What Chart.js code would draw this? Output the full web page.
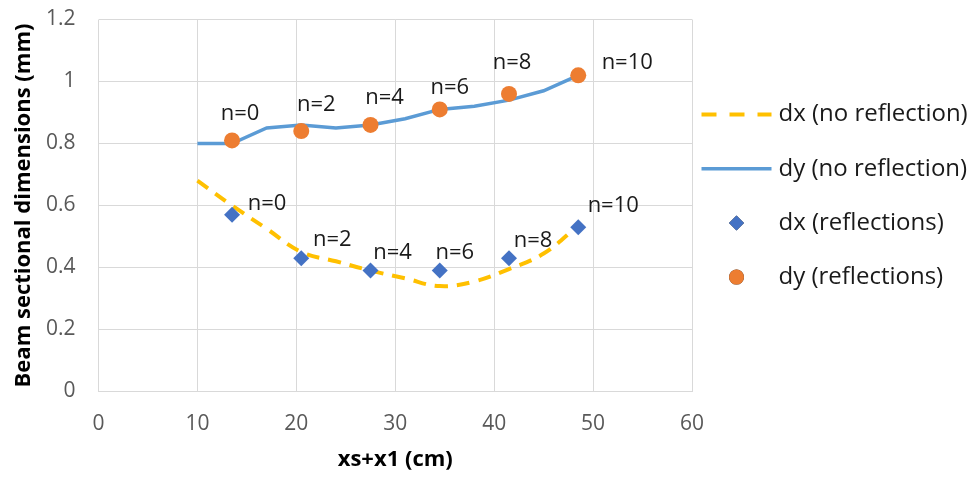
<!DOCTYPE html>
<html>
<head>
<meta charset="utf-8">
<script src="https://cdn.jsdelivr.net/npm/chart.js@4.4.1/dist/chart.umd.min.js"></script>
<style>
    html, body { margin: 0; padding: 0; background: #fff; }
    #chart { display: block; }
</style>
</head>
<body>
<canvas id="chart" width="978" height="477"></canvas>
<script>
(function (Chart) {
    "use strict";

    // beam size along the path, model without reflections
    var curveX = [10, 13.5, 17, 20.5, 24, 27.5, 31, 34.5, 38, 41.5, 45, 48.5];
    var dxNoReflection = [0.68, 0.60, 0.525, 0.45, 0.42, 0.39, 0.365, 0.34, 0.355, 0.395, 0.445, 0.535];
    var dyNoReflection = [0.80, 0.80, 0.85, 0.86, 0.85, 0.86, 0.88, 0.91, 0.92, 0.94, 0.97, 1.02];

    // measured after n reflections
    var reflX = [13.5, 20.5, 27.5, 34.5, 41.5, 48.5];
    var dxReflections = [0.57, 0.43, 0.39, 0.39, 0.43, 0.53];
    var dyReflections = [0.81, 0.84, 0.86, 0.91, 0.96, 1.02];
    var reflLabels = ['n=0', 'n=2', 'n=4', 'n=6', 'n=8', 'n=10'];

    var xTickStep = 10, xMin = 0, xMax = 60;
    var yTickStep = 0.2, yMin = 0, yMax = 1.2;

    var FONT = "'Open Sans', sans-serif";
    var W = 978, H = 477;
    var PLOT = {left: 98.5, right: 692, top: 19.5, bottom: 391.5};
    var PAD = {left: 11, right: W - PLOT.right, top: PLOT.top, bottom: 4};

    function toPoints(xs, ys) {
        return xs.map(function (x, i) { return {x: x, y: ys[i]}; });
    }

    // "n=.." tags next to the reflection markers
    var pointLabels = {
        id: 'pointLabels',
        afterDatasetsDraw: function (chart, args, opts) {
            var ctx = chart.ctx;
            ctx.save();
            ctx.font = opts.size + "px " + FONT;
            ctx.fillStyle = opts.color;
            ctx.textAlign = 'center';
            ctx.textBaseline = 'middle';
            opts.sets.forEach(function (set) {
                var meta = chart.getDatasetMeta(set.dataset);
                meta.data.forEach(function (pt, i) {
                    var off = set.offsets[i];
                    ctx.fillText(reflLabels[i], pt.x + off[0], pt.y + off[1]);
                });
            });
            ctx.restore();
        }
    };

    // legend on the right, line samples for curves and single markers for points
    var sideLegend = {
        id: 'sideLegend',
        afterDraw: function (chart, args, opts) {
            var ctx = chart.ctx;
            ctx.save();
            ctx.font = opts.size + "px " + FONT;
            ctx.textBaseline = 'middle';
            ctx.textAlign = 'left';
            chart.data.datasets.forEach(function (ds, i) {
                var y = opts.top + i * opts.step;
                if (ds.showLine) {
                    ctx.strokeStyle = ds.borderColor;
                    ctx.lineWidth = ds.borderWidth;
                    ctx.setLineDash(opts.dash[i] || []);
                    ctx.beginPath();
                    ctx.moveTo(opts.left, y);
                    ctx.lineTo(opts.left + opts.sample, y);
                    ctx.stroke();
                    ctx.setLineDash([]);
                } else {
                    Chart.helpers.drawPoint(ctx, {
                        pointStyle: ds.pointStyle,
                        radius: opts.marker,
                        borderWidth: 0,
                        rotation: 0
                    }, opts.left + opts.sample / 2, y);
                    ctx.fillStyle = ds.pointBackgroundColor;
                    ctx.fill();
                }
                ctx.fillStyle = opts.color;
                ctx.fillText(ds.label, opts.left + opts.sample + opts.gap, y);
            });
            ctx.restore();
        }
    };

    var tickFont = {family: FONT, size: 21};
    var titleFont = {family: FONT, size: 22, weight: 'bold'};

    new Chart(document.getElementById('chart'), {
        type: 'scatter',
        data: {
            datasets: [{
                label: 'dx (no reflection)',
                data: toPoints(curveX, dxNoReflection),
                showLine: true,
                borderColor: '#ffc000',
                borderWidth: 4,
                borderDash: [13, 9],
                tension: 0.4,
                pointRadius: 0,
                order: 3
            }, {
                label: 'dy (no reflection)',
                data: toPoints(curveX, dyNoReflection),
                showLine: true,
                borderColor: '#5b9bd5',
                borderWidth: 3.5,
                pointRadius: 0,
                order: 2
            }, {
                label: 'dx (reflections)',
                data: toPoints(reflX, dxReflections),
                pointStyle: 'rectRot',
                pointRadius: 8,
                pointBackgroundColor: '#4472c4',
                pointBorderWidth: 0,
                order: 1
            }, {
                label: 'dy (reflections)',
                data: toPoints(reflX, dyReflections),
                pointStyle: 'circle',
                pointRadius: 8,
                pointBackgroundColor: '#ed7d31',
                pointBorderWidth: 0,
                order: 0
            }]
        },
        options: {
            responsive: false,
            animation: false,
            layout: {padding: PAD},
            plugins: {
                legend: {display: false},
                tooltip: {enabled: false},
                pointLabels: {
                    size: 22,
                    color: '#1a1a1a',
                    sets: [
                        {dataset: 3, offsets: [[8, -27], [15, -26], [14, -27], [10, -22], [3, -31], [49, -13]]},
                        {dataset: 2, offsets: [[35, -11], [31, -18], [22, -18], [15, -18], [24, -17], [35, -21]]}
                    ]
                },
                sideLegend: {
                    left: 701.5, sample: 70, gap: 7, top: 114.5, step: 54.2, size: 24, marker: 7.5,
                    color: '#1a1a1a', dash: [[15, 13]]
                }
            },
            scales: {
                x: {
                    type: 'linear',
                    min: xMin,
                    max: xMax,
                    ticks: {stepSize: xTickStep, color: '#595959', font: tickFont, padding: 20},
                    grid: {color: '#d9d9d9', drawTicks: false},
                    border: {display: false},
                    title: {display: true, text: 'xs+x1 (cm)', color: '#000', font: titleFont, padding: 0},
                    afterFit: function (scale) {
                        scale.height = H - PAD.bottom - PLOT.bottom;
                        scale.paddingLeft = 0;
                        scale.paddingRight = 0;
                    }
                },
                y: {
                    type: 'linear',
                    min: yMin,
                    max: yMax,
                    ticks: {
                        stepSize: yTickStep, color: '#595959', font: tickFont, padding: 23,
                        callback: function (v) { return String(Math.round(v * 10) / 10); }
                    },
                    grid: {color: '#d9d9d9', drawTicks: false},
                    border: {display: false},
                    title: {display: true, text: 'Beam sectional dimensions (mm)', color: '#000', font: titleFont, padding: 0},
                    afterFit: function (scale) {
                        scale.width = PLOT.left - PAD.left;
                        scale.paddingTop = 0;
                        scale.paddingBottom = 0;
                    }
                }
            }
        },
        plugins: [pointLabels, sideLegend]
    });
})(Chart);
</script>
</body>
</html>
